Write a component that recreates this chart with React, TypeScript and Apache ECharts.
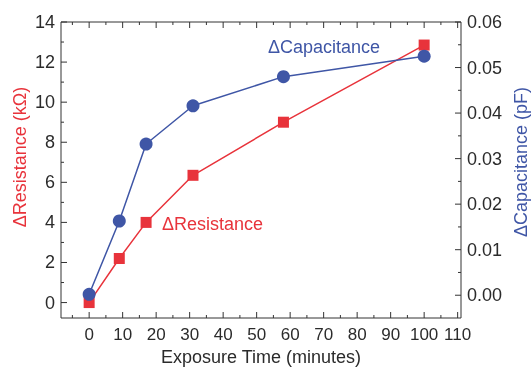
import React, { useEffect, useRef } from "react";
import * as echarts from "echarts";

const exposureTime = [0, 9, 17, 31, 58, 100];
const resistance = [0.0, 2.2, 4.0, 6.35, 9.0, 12.85];
const capacitance = [0.0002, 0.0163, 0.0332, 0.0416, 0.048, 0.0525];

const xTicks = [0, 10, 20, 30, 40, 50, 60, 70, 80, 90, 100, 110];
const xMinorTicks = [-5, 5, 15, 25, 35, 45, 55, 65, 75, 85, 95, 105];
const leftTicks = [0, 2, 4, 6, 8, 10, 12, 14];
const leftMinorTicks = [1, 3, 5, 7, 9, 11, 13];
const rightTicks = [0, 0.01, 0.02, 0.03, 0.04, 0.05, 0.06];
const rightMinorTicks = [0.005, 0.015, 0.025, 0.035, 0.045, 0.055];

const X_MIN = -8.4;
const X_MAX = 111;
const L_MIN = -0.77;
const L_MAX = 14;
const R_MIN = -0.005;
const R_MAX = 0.06;

const RED = "#e8333b";
const BLUE = "#3f56a6";
const DARK = "#2b2b2b";
const AXIS = "#333";
const FONT = "Liberation Sans";

const MAJOR_LEN = 6;
const MINOR_LEN = 3;

export default function App() {
  const ref = useRef<HTMLDivElement>(null);
  useEffect(() => {
    if (!ref.current) return;
    const chart = echarts.init(ref.current, undefined, { renderer: "svg" });
    const tickLine = (x1: number, y1: number, x2: number, y2: number) => ({
      type: "line",
      shape: { x1, y1, x2, y2 },
      style: { stroke: AXIS, lineWidth: 1 },
    });
    const withFlag = (major: number[], minor: number[]) => [
      ...major.map((v) => [v, 0]),
      ...minor.map((v) => [v, 1]),
    ];
    chart.setOption({
      animation: false,
      grid: {
        left: 61,
        right: 70,
        top: 22,
        bottom: 49,
        outerBoundsMode: "none",
        containLabel: false,
        show: true,
        borderColor: AXIS,
        borderWidth: 1,
        backgroundColor: "transparent",
      },
      xAxis: [
        {
          type: "value",
          position: "bottom",
          min: X_MIN,
          max: X_MAX,
          axisLine: { show: false, onZero: false },
          axisTick: { show: false },
          splitLine: { show: false },
          axisLabel: { color: DARK, fontSize: 17, fontFamily: FONT, customValues: xTicks, margin: 8 },
          name: "Exposure Time (minutes)",
          nameLocation: "middle",
          nameGap: 30,
          nameMoveOverlap: false,
          nameTextStyle: { color: DARK, fontSize: 18, fontFamily: FONT },
        },
      ],
      yAxis: [
        {
          type: "value",
          position: "left",
          min: L_MIN,
          max: L_MAX,
          axisLine: { show: false, onZero: false },
          axisTick: { show: false },
          splitLine: { show: false },
          axisLabel: {
            color: DARK,
            fontSize: 18,
            fontFamily: FONT,
            customValues: leftTicks,
            margin: 6,
            formatter: (v: number) => String(v),
          },
          name: "ΔResistance (kΩ)",
          nameLocation: "middle",
          nameRotate: 90,
          nameGap: 32,
          nameMoveOverlap: false,
          nameTextStyle: { color: RED, fontSize: 18, fontFamily: FONT, padding: [0, 0, 0, 26] },
        },
        {
          type: "value",
          position: "right",
          min: R_MIN,
          max: R_MAX,
          axisLine: { show: false, onZero: false },
          axisTick: { show: false },
          splitLine: { show: false },
          axisLabel: {
            color: DARK,
            fontSize: 18,
            fontFamily: FONT,
            customValues: rightTicks,
            margin: 6,
            formatter: (v: number) => v.toFixed(2),
          },
          name: "ΔCapacitance (pF)",
          nameLocation: "middle",
          nameRotate: 90,
          nameGap: 51,
          nameMoveOverlap: false,
          nameTextStyle: { color: BLUE, fontSize: 18, fontFamily: FONT, padding: [0, 0, 0, 16] },
        },
      ],
      graphic: [
        { type: "text", left: 268, top: 38, style: { text: "ΔCapacitance", fill: BLUE, fontSize: 18, fontFamily: FONT } },
        { type: "text", left: 162, top: 215, style: { text: "ΔResistance", fill: RED, fontSize: 18, fontFamily: FONT } },
      ],
      series: [
        {
          name: "xTicks",
          type: "custom",
          xAxisIndex: 0,
          yAxisIndex: 0,
          silent: true,
          clip: false,
          data: withFlag(xTicks, xMinorTicks),
          renderItem: (_p: any, api: any) => {
            const v = api.value(0);
            const len = api.value(1) ? MINOR_LEN : MAJOR_LEN;
            const b = api.coord([v, L_MIN]);
            const t = api.coord([v, L_MAX]);
            return {
              type: "group",
              children: [tickLine(b[0], b[1], b[0], b[1] - len), tickLine(t[0], t[1], t[0], t[1] + len)],
            };
          },
        },
        {
          name: "leftTicks",
          type: "custom",
          xAxisIndex: 0,
          yAxisIndex: 0,
          silent: true,
          clip: false,
          encode: { x: 1, y: 0 },
          data: withFlag(leftTicks, leftMinorTicks),
          renderItem: (_p: any, api: any) => {
            const v = api.value(0);
            const len = api.value(1) ? MINOR_LEN : MAJOR_LEN;
            const p = api.coord([X_MIN, v]);
            return tickLine(p[0], p[1], p[0] + len, p[1]);
          },
        },
        {
          name: "rightTicks",
          type: "custom",
          xAxisIndex: 0,
          yAxisIndex: 1,
          silent: true,
          clip: false,
          encode: { x: 1, y: 0 },
          data: withFlag(rightTicks, rightMinorTicks),
          renderItem: (_p: any, api: any) => {
            const v = api.value(0);
            const len = api.value(1) ? MINOR_LEN : MAJOR_LEN;
            const p = api.coord([X_MAX, v]);
            return tickLine(p[0], p[1], p[0] - len, p[1]);
          },
        },
        {
          name: "ΔResistance",
          type: "line",
          xAxisIndex: 0,
          yAxisIndex: 0,
          data: exposureTime.map((t, i) => [t, resistance[i]]),
          symbol: "rect",
          symbolSize: 11,
          itemStyle: { color: RED },
          lineStyle: { color: RED, width: 1.5 },
        },
        {
          name: "ΔCapacitance",
          type: "line",
          xAxisIndex: 0,
          yAxisIndex: 1,
          data: exposureTime.map((t, i) => [t, capacitance[i]]),
          symbol: "circle",
          symbolSize: 13,
          itemStyle: { color: BLUE },
          lineStyle: { color: BLUE, width: 1.5 },
        },
      ],
    });
    return () => chart.dispose();
  }, []);
  return <div ref={ref} style={{ position: "fixed", left: 0, top: 0, width: 531, height: 367 }} />;
}
